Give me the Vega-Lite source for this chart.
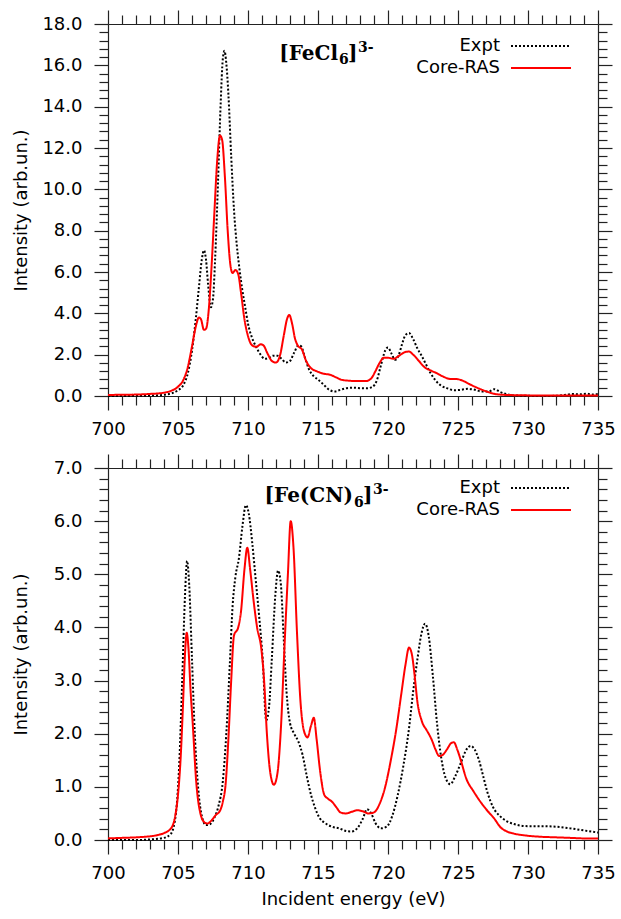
{
  "$schema": "https://vega.github.io/schema/vega-lite/v6.json",
  "background": "white",
  "padding": {"left": 12, "top": 9, "right": 5, "bottom": 5},
  "spacing": 15,
  "resolve": {"scale": {"color": "independent", "strokeDash": "independent"}, "legend": {"color": "independent", "strokeDash": "independent"}},
  "config": {
    "view": {"stroke": null},
    "axis": {"domainColor": "#222", "tickColor": "#222", "labelColor": "#000", "titleColor": "#000", "labelFont": "DejaVu Sans", "titleFont": "DejaVu Sans", "labelFontSize": 18, "titleFontSize": 18, "titleFontWeight": "normal", "grid": false, "labelOverlap": false, "labelFlush": false, "domainWidth": 1.2, "tickWidth": 1.2},
    "legend": {"title": null, "orient": "none", "legendX": 424, "symbolType": "M-5,0H5", "symbolSize": 144, "symbolStrokeWidth": 2, "labelAlign": "right", "labelOffset": -50, "labelFontSize": 18, "labelFont": "DejaVu Sans", "labelColor": "#000", "rowPadding": 4, "padding": 0}
  },
  "datasets": {
    "fecl": [
      {"E":700,"I":0,"s":"Expt"},{"E":701,"I":0,"s":"Expt"},{"E":702,"I":0.01,"s":"Expt"},{"E":703,"I":0.02,"s":"Expt"},{"E":704,"I":0.06,"s":"Expt"},{"E":704.5,"I":0.12,"s":"Expt"},{"E":705,"I":0.28,"s":"Expt"},{"E":705.4,"I":0.55,"s":"Expt"},{"E":705.7,"I":1.1,"s":"Expt"},{"E":706.0,"I":2.2,"s":"Expt"},{"E":706.25,"I":3.6,"s":"Expt"},{"E":706.5,"I":5.3,"s":"Expt"},{"E":706.7,"I":6.6,"s":"Expt"},{"E":706.85,"I":7.05,"s":"Expt"},{"E":707.0,"I":6.6,"s":"Expt"},{"E":707.15,"I":5.4,"s":"Expt"},{"E":707.35,"I":4.3,"s":"Expt"},{"E":707.5,"I":4.7,"s":"Expt"},{"E":707.65,"I":6.6,"s":"Expt"},{"E":707.85,"I":10.2,"s":"Expt"},{"E":708.05,"I":14.2,"s":"Expt"},{"E":708.2,"I":16.3,"s":"Expt"},{"E":708.32,"I":16.7,"s":"Expt"},{"E":708.45,"I":16.1,"s":"Expt"},{"E":708.6,"I":14.6,"s":"Expt"},{"E":708.8,"I":11.6,"s":"Expt"},{"E":709.0,"I":9.0,"s":"Expt"},{"E":709.2,"I":7.3,"s":"Expt"},{"E":709.4,"I":6.1,"s":"Expt"},{"E":709.6,"I":5.1,"s":"Expt"},{"E":709.8,"I":4.3,"s":"Expt"},{"E":710.0,"I":3.5,"s":"Expt"},{"E":710.3,"I":2.8,"s":"Expt"},{"E":710.6,"I":2.35,"s":"Expt"},{"E":710.9,"I":2.0,"s":"Expt"},{"E":711.2,"I":1.8,"s":"Expt"},{"E":711.5,"I":1.85,"s":"Expt"},{"E":711.8,"I":1.95,"s":"Expt"},{"E":712.1,"I":1.95,"s":"Expt"},{"E":712.4,"I":1.8,"s":"Expt"},{"E":712.7,"I":1.62,"s":"Expt"},{"E":713.0,"I":1.7,"s":"Expt"},{"E":713.3,"I":2.1,"s":"Expt"},{"E":713.6,"I":2.45,"s":"Expt"},{"E":713.8,"I":2.4,"s":"Expt"},{"E":714.05,"I":1.9,"s":"Expt"},{"E":714.35,"I":1.3,"s":"Expt"},{"E":714.7,"I":0.95,"s":"Expt"},{"E":715.0,"I":0.8,"s":"Expt"},{"E":715.4,"I":0.55,"s":"Expt"},{"E":715.8,"I":0.3,"s":"Expt"},{"E":716.2,"I":0.22,"s":"Expt"},{"E":716.6,"I":0.3,"s":"Expt"},{"E":717.0,"I":0.37,"s":"Expt"},{"E":717.5,"I":0.4,"s":"Expt"},{"E":718.0,"I":0.38,"s":"Expt"},{"E":718.5,"I":0.37,"s":"Expt"},{"E":718.9,"I":0.45,"s":"Expt"},{"E":719.2,"I":0.75,"s":"Expt"},{"E":719.5,"I":1.5,"s":"Expt"},{"E":719.8,"I":2.2,"s":"Expt"},{"E":720.0,"I":2.35,"s":"Expt"},{"E":720.25,"I":2.05,"s":"Expt"},{"E":720.5,"I":1.75,"s":"Expt"},{"E":720.75,"I":1.95,"s":"Expt"},{"E":721.0,"I":2.5,"s":"Expt"},{"E":721.25,"I":2.95,"s":"Expt"},{"E":721.5,"I":3.05,"s":"Expt"},{"E":721.8,"I":2.75,"s":"Expt"},{"E":722.1,"I":2.3,"s":"Expt"},{"E":722.4,"I":1.95,"s":"Expt"},{"E":722.7,"I":1.55,"s":"Expt"},{"E":723.0,"I":1.15,"s":"Expt"},{"E":723.4,"I":0.75,"s":"Expt"},{"E":723.8,"I":0.5,"s":"Expt"},{"E":724.2,"I":0.38,"s":"Expt"},{"E":724.7,"I":0.28,"s":"Expt"},{"E":725.2,"I":0.3,"s":"Expt"},{"E":725.7,"I":0.35,"s":"Expt"},{"E":726.2,"I":0.3,"s":"Expt"},{"E":726.7,"I":0.22,"s":"Expt"},{"E":727.2,"I":0.22,"s":"Expt"},{"E":727.6,"I":0.33,"s":"Expt"},{"E":728.0,"I":0.2,"s":"Expt"},{"E":728.5,"I":0.08,"s":"Expt"},{"E":729,"I":0.03,"s":"Expt"},{"E":730,"I":0.01,"s":"Expt"},{"E":731,"I":0,"s":"Expt"},{"E":732,"I":0.01,"s":"Expt"},{"E":732.6,"I":0.05,"s":"Expt"},{"E":733.2,"I":0.1,"s":"Expt"},{"E":733.7,"I":0.08,"s":"Expt"},{"E":734.2,"I":0.11,"s":"Expt"},{"E":734.6,"I":0.07,"s":"Expt"},{"E":735,"I":0.1,"s":"Expt"},
      {"E":700,"I":0.05,"s":"Core-RAS"},{"E":701,"I":0.06,"s":"Core-RAS"},{"E":702,"I":0.07,"s":"Core-RAS"},{"E":703,"I":0.1,"s":"Core-RAS"},{"E":704,"I":0.16,"s":"Core-RAS"},{"E":704.5,"I":0.25,"s":"Core-RAS"},{"E":705,"I":0.45,"s":"Core-RAS"},{"E":705.4,"I":0.8,"s":"Core-RAS"},{"E":705.7,"I":1.4,"s":"Core-RAS"},{"E":706.0,"I":2.4,"s":"Core-RAS"},{"E":706.25,"I":3.3,"s":"Core-RAS"},{"E":706.5,"I":3.8,"s":"Core-RAS"},{"E":706.65,"I":3.7,"s":"Core-RAS"},{"E":706.85,"I":3.2,"s":"Core-RAS"},{"E":707.0,"I":3.25,"s":"Core-RAS"},{"E":707.2,"I":4.2,"s":"Core-RAS"},{"E":707.4,"I":6.3,"s":"Core-RAS"},{"E":707.6,"I":8.9,"s":"Core-RAS"},{"E":707.8,"I":11.4,"s":"Core-RAS"},{"E":708.0,"I":12.6,"s":"Core-RAS"},{"E":708.15,"I":12.4,"s":"Core-RAS"},{"E":708.35,"I":10.6,"s":"Core-RAS"},{"E":708.55,"I":8.0,"s":"Core-RAS"},{"E":708.75,"I":6.3,"s":"Core-RAS"},{"E":708.9,"I":5.95,"s":"Core-RAS"},{"E":709.1,"I":6.1,"s":"Core-RAS"},{"E":709.3,"I":5.9,"s":"Core-RAS"},{"E":709.5,"I":5.0,"s":"Core-RAS"},{"E":709.75,"I":3.7,"s":"Core-RAS"},{"E":710.0,"I":2.9,"s":"Core-RAS"},{"E":710.3,"I":2.45,"s":"Core-RAS"},{"E":710.6,"I":2.38,"s":"Core-RAS"},{"E":710.9,"I":2.5,"s":"Core-RAS"},{"E":711.1,"I":2.45,"s":"Core-RAS"},{"E":711.4,"I":2.05,"s":"Core-RAS"},{"E":711.7,"I":1.7,"s":"Core-RAS"},{"E":712.0,"I":1.62,"s":"Core-RAS"},{"E":712.3,"I":2.0,"s":"Core-RAS"},{"E":712.55,"I":2.9,"s":"Core-RAS"},{"E":712.8,"I":3.75,"s":"Core-RAS"},{"E":712.95,"I":3.92,"s":"Core-RAS"},{"E":713.15,"I":3.5,"s":"Core-RAS"},{"E":713.35,"I":2.8,"s":"Core-RAS"},{"E":713.55,"I":2.45,"s":"Core-RAS"},{"E":713.85,"I":2.25,"s":"Core-RAS"},{"E":714.15,"I":1.7,"s":"Core-RAS"},{"E":714.5,"I":1.35,"s":"Core-RAS"},{"E":714.9,"I":1.2,"s":"Core-RAS"},{"E":715.4,"I":1.08,"s":"Core-RAS"},{"E":715.9,"I":1.02,"s":"Core-RAS"},{"E":716.3,"I":0.9,"s":"Core-RAS"},{"E":716.7,"I":0.78,"s":"Core-RAS"},{"E":717.2,"I":0.74,"s":"Core-RAS"},{"E":717.8,"I":0.72,"s":"Core-RAS"},{"E":718.4,"I":0.72,"s":"Core-RAS"},{"E":718.8,"I":0.85,"s":"Core-RAS"},{"E":719.1,"I":1.2,"s":"Core-RAS"},{"E":719.4,"I":1.6,"s":"Core-RAS"},{"E":719.7,"I":1.85,"s":"Core-RAS"},{"E":720.0,"I":1.85,"s":"Core-RAS"},{"E":720.4,"I":1.8,"s":"Core-RAS"},{"E":720.8,"I":1.95,"s":"Core-RAS"},{"E":721.2,"I":2.12,"s":"Core-RAS"},{"E":721.5,"I":2.15,"s":"Core-RAS"},{"E":721.8,"I":2.0,"s":"Core-RAS"},{"E":722.2,"I":1.7,"s":"Core-RAS"},{"E":722.6,"I":1.4,"s":"Core-RAS"},{"E":723.0,"I":1.25,"s":"Core-RAS"},{"E":723.5,"I":1.1,"s":"Core-RAS"},{"E":724.0,"I":0.92,"s":"Core-RAS"},{"E":724.5,"I":0.82,"s":"Core-RAS"},{"E":724.9,"I":0.82,"s":"Core-RAS"},{"E":725.3,"I":0.75,"s":"Core-RAS"},{"E":725.8,"I":0.58,"s":"Core-RAS"},{"E":726.3,"I":0.42,"s":"Core-RAS"},{"E":726.8,"I":0.28,"s":"Core-RAS"},{"E":727.3,"I":0.16,"s":"Core-RAS"},{"E":727.8,"I":0.08,"s":"Core-RAS"},{"E":728.5,"I":0.05,"s":"Core-RAS"},{"E":730,"I":0.03,"s":"Core-RAS"},{"E":732,"I":0.02,"s":"Core-RAS"},{"E":735,"I":0.02,"s":"Core-RAS"}
    ],
    "fecn": [
      {"E":700,"I":0,"s":"Expt"},{"E":702,"I":0,"s":"Expt"},{"E":703,"I":0.01,"s":"Expt"},{"E":704,"I":0.04,"s":"Expt"},{"E":704.5,"I":0.12,"s":"Expt"},{"E":704.85,"I":0.5,"s":"Expt"},{"E":705.1,"I":1.5,"s":"Expt"},{"E":705.3,"I":3.0,"s":"Expt"},{"E":705.5,"I":4.6,"s":"Expt"},{"E":705.65,"I":5.25,"s":"Expt"},{"E":705.8,"I":4.8,"s":"Expt"},{"E":706.0,"I":3.4,"s":"Expt"},{"E":706.2,"I":2.0,"s":"Expt"},{"E":706.45,"I":0.95,"s":"Expt"},{"E":706.7,"I":0.45,"s":"Expt"},{"E":707.0,"I":0.28,"s":"Expt"},{"E":707.3,"I":0.3,"s":"Expt"},{"E":707.6,"I":0.42,"s":"Expt"},{"E":707.9,"I":0.65,"s":"Expt"},{"E":708.2,"I":1.1,"s":"Expt"},{"E":708.45,"I":2.0,"s":"Expt"},{"E":708.7,"I":3.3,"s":"Expt"},{"E":708.9,"I":4.4,"s":"Expt"},{"E":709.1,"I":4.95,"s":"Expt"},{"E":709.35,"I":5.3,"s":"Expt"},{"E":709.6,"I":5.9,"s":"Expt"},{"E":709.85,"I":6.3,"s":"Expt"},{"E":710.05,"I":6.15,"s":"Expt"},{"E":710.3,"I":5.6,"s":"Expt"},{"E":710.55,"I":4.9,"s":"Expt"},{"E":710.8,"I":4.2,"s":"Expt"},{"E":711.05,"I":3.4,"s":"Expt"},{"E":711.3,"I":2.25,"s":"Expt"},{"E":711.5,"I":2.5,"s":"Expt"},{"E":711.7,"I":3.4,"s":"Expt"},{"E":711.95,"I":4.6,"s":"Expt"},{"E":712.15,"I":5.07,"s":"Expt"},{"E":712.35,"I":4.8,"s":"Expt"},{"E":712.55,"I":3.8,"s":"Expt"},{"E":712.75,"I":2.8,"s":"Expt"},{"E":713.0,"I":2.2,"s":"Expt"},{"E":713.3,"I":2.0,"s":"Expt"},{"E":713.6,"I":1.85,"s":"Expt"},{"E":713.9,"I":1.6,"s":"Expt"},{"E":714.2,"I":1.2,"s":"Expt"},{"E":714.5,"I":0.85,"s":"Expt"},{"E":714.8,"I":0.6,"s":"Expt"},{"E":715.1,"I":0.42,"s":"Expt"},{"E":715.5,"I":0.32,"s":"Expt"},{"E":716.0,"I":0.25,"s":"Expt"},{"E":716.5,"I":0.22,"s":"Expt"},{"E":717.0,"I":0.17,"s":"Expt"},{"E":717.4,"I":0.16,"s":"Expt"},{"E":717.8,"I":0.22,"s":"Expt"},{"E":718.2,"I":0.4,"s":"Expt"},{"E":718.5,"I":0.58,"s":"Expt"},{"E":718.8,"I":0.5,"s":"Expt"},{"E":719.1,"I":0.32,"s":"Expt"},{"E":719.5,"I":0.22,"s":"Expt"},{"E":719.9,"I":0.25,"s":"Expt"},{"E":720.3,"I":0.45,"s":"Expt"},{"E":720.7,"I":0.85,"s":"Expt"},{"E":721.1,"I":1.4,"s":"Expt"},{"E":721.5,"I":2.1,"s":"Expt"},{"E":721.8,"I":2.8,"s":"Expt"},{"E":722.1,"I":3.4,"s":"Expt"},{"E":722.4,"I":3.9,"s":"Expt"},{"E":722.65,"I":4.07,"s":"Expt"},{"E":722.9,"I":3.85,"s":"Expt"},{"E":723.2,"I":3.1,"s":"Expt"},{"E":723.5,"I":2.2,"s":"Expt"},{"E":723.8,"I":1.55,"s":"Expt"},{"E":724.1,"I":1.18,"s":"Expt"},{"E":724.45,"I":1.05,"s":"Expt"},{"E":724.8,"I":1.2,"s":"Expt"},{"E":725.2,"I":1.45,"s":"Expt"},{"E":725.6,"I":1.7,"s":"Expt"},{"E":725.9,"I":1.77,"s":"Expt"},{"E":726.2,"I":1.7,"s":"Expt"},{"E":726.5,"I":1.5,"s":"Expt"},{"E":726.8,"I":1.2,"s":"Expt"},{"E":727.1,"I":0.9,"s":"Expt"},{"E":727.5,"I":0.62,"s":"Expt"},{"E":728.0,"I":0.45,"s":"Expt"},{"E":728.5,"I":0.35,"s":"Expt"},{"E":729.0,"I":0.3,"s":"Expt"},{"E":729.5,"I":0.27,"s":"Expt"},{"E":730.0,"I":0.26,"s":"Expt"},{"E":731.0,"I":0.26,"s":"Expt"},{"E":732.0,"I":0.25,"s":"Expt"},{"E":733.0,"I":0.22,"s":"Expt"},{"E":734.0,"I":0.18,"s":"Expt"},{"E":735.0,"I":0.14,"s":"Expt"},
      {"E":700,"I":0.03,"s":"Core-RAS"},{"E":701,"I":0.04,"s":"Core-RAS"},{"E":702,"I":0.05,"s":"Core-RAS"},{"E":703,"I":0.07,"s":"Core-RAS"},{"E":703.5,"I":0.09,"s":"Core-RAS"},{"E":704,"I":0.13,"s":"Core-RAS"},{"E":704.5,"I":0.22,"s":"Core-RAS"},{"E":704.8,"I":0.45,"s":"Core-RAS"},{"E":705.0,"I":0.85,"s":"Core-RAS"},{"E":705.2,"I":1.6,"s":"Core-RAS"},{"E":705.35,"I":2.5,"s":"Core-RAS"},{"E":705.5,"I":3.5,"s":"Core-RAS"},{"E":705.62,"I":3.9,"s":"Core-RAS"},{"E":705.75,"I":3.6,"s":"Core-RAS"},{"E":705.9,"I":2.8,"s":"Core-RAS"},{"E":706.05,"I":2.2,"s":"Core-RAS"},{"E":706.3,"I":1.1,"s":"Core-RAS"},{"E":706.6,"I":0.5,"s":"Core-RAS"},{"E":706.9,"I":0.33,"s":"Core-RAS"},{"E":707.1,"I":0.31,"s":"Core-RAS"},{"E":707.4,"I":0.37,"s":"Core-RAS"},{"E":707.7,"I":0.47,"s":"Core-RAS"},{"E":708.0,"I":0.55,"s":"Core-RAS"},{"E":708.2,"I":0.72,"s":"Core-RAS"},{"E":708.4,"I":1.05,"s":"Core-RAS"},{"E":708.6,"I":1.9,"s":"Core-RAS"},{"E":708.8,"I":3.0,"s":"Core-RAS"},{"E":709.0,"I":3.85,"s":"Core-RAS"},{"E":709.3,"I":4.0,"s":"Core-RAS"},{"E":709.5,"I":4.3,"s":"Core-RAS"},{"E":709.75,"I":5.1,"s":"Core-RAS"},{"E":709.95,"I":5.5,"s":"Core-RAS"},{"E":710.15,"I":5.1,"s":"Core-RAS"},{"E":710.4,"I":4.5,"s":"Core-RAS"},{"E":710.65,"I":4.0,"s":"Core-RAS"},{"E":710.95,"I":3.6,"s":"Core-RAS"},{"E":711.15,"I":3.0,"s":"Core-RAS"},{"E":711.35,"I":2.0,"s":"Core-RAS"},{"E":711.6,"I":1.25,"s":"Core-RAS"},{"E":711.85,"I":1.04,"s":"Core-RAS"},{"E":712.1,"I":1.25,"s":"Core-RAS"},{"E":712.35,"I":2.1,"s":"Core-RAS"},{"E":712.6,"I":3.6,"s":"Core-RAS"},{"E":712.85,"I":5.0,"s":"Core-RAS"},{"E":713.05,"I":6.0,"s":"Core-RAS"},{"E":713.25,"I":5.5,"s":"Core-RAS"},{"E":713.5,"I":3.9,"s":"Core-RAS"},{"E":713.75,"I":2.6,"s":"Core-RAS"},{"E":714.0,"I":2.05,"s":"Core-RAS"},{"E":714.25,"I":1.93,"s":"Core-RAS"},{"E":714.5,"I":2.15,"s":"Core-RAS"},{"E":714.7,"I":2.3,"s":"Core-RAS"},{"E":714.9,"I":1.9,"s":"Core-RAS"},{"E":715.15,"I":1.3,"s":"Core-RAS"},{"E":715.45,"I":0.85,"s":"Core-RAS"},{"E":715.7,"I":0.78,"s":"Core-RAS"},{"E":716.0,"I":0.72,"s":"Core-RAS"},{"E":716.3,"I":0.62,"s":"Core-RAS"},{"E":716.6,"I":0.52,"s":"Core-RAS"},{"E":717.0,"I":0.5,"s":"Core-RAS"},{"E":717.4,"I":0.53,"s":"Core-RAS"},{"E":717.8,"I":0.56,"s":"Core-RAS"},{"E":718.2,"I":0.54,"s":"Core-RAS"},{"E":718.6,"I":0.5,"s":"Core-RAS"},{"E":719.0,"I":0.52,"s":"Core-RAS"},{"E":719.4,"I":0.68,"s":"Core-RAS"},{"E":719.8,"I":1.0,"s":"Core-RAS"},{"E":720.2,"I":1.5,"s":"Core-RAS"},{"E":720.6,"I":2.1,"s":"Core-RAS"},{"E":720.95,"I":2.75,"s":"Core-RAS"},{"E":721.25,"I":3.3,"s":"Core-RAS"},{"E":721.5,"I":3.62,"s":"Core-RAS"},{"E":721.7,"I":3.5,"s":"Core-RAS"},{"E":721.9,"I":3.1,"s":"Core-RAS"},{"E":722.1,"I":2.6,"s":"Core-RAS"},{"E":722.4,"I":2.25,"s":"Core-RAS"},{"E":722.8,"I":2.05,"s":"Core-RAS"},{"E":723.1,"I":1.9,"s":"Core-RAS"},{"E":723.4,"I":1.7,"s":"Core-RAS"},{"E":723.65,"I":1.58,"s":"Core-RAS"},{"E":723.9,"I":1.6,"s":"Core-RAS"},{"E":724.2,"I":1.7,"s":"Core-RAS"},{"E":724.5,"I":1.82,"s":"Core-RAS"},{"E":724.7,"I":1.84,"s":"Core-RAS"},{"E":724.95,"I":1.7,"s":"Core-RAS"},{"E":725.2,"I":1.5,"s":"Core-RAS"},{"E":725.6,"I":1.15,"s":"Core-RAS"},{"E":726.1,"I":0.92,"s":"Core-RAS"},{"E":726.6,"I":0.72,"s":"Core-RAS"},{"E":727.1,"I":0.55,"s":"Core-RAS"},{"E":727.6,"I":0.4,"s":"Core-RAS"},{"E":728.0,"I":0.25,"s":"Core-RAS"},{"E":728.5,"I":0.16,"s":"Core-RAS"},{"E":729.0,"I":0.12,"s":"Core-RAS"},{"E":730.0,"I":0.08,"s":"Core-RAS"},{"E":731.0,"I":0.06,"s":"Core-RAS"},{"E":732.0,"I":0.05,"s":"Core-RAS"},{"E":733.0,"I":0.04,"s":"Core-RAS"},{"E":734.0,"I":0.03,"s":"Core-RAS"},{"E":735.0,"I":0.03,"s":"Core-RAS"}
    ]
  },
  "vconcat": [
    {
      "width": 490, "height": 372,
      "data": {"name": "fecl"},
      "layer": [
        {
          "mark": {"type": "line", "interpolate": "monotone", "strokeWidth": 2},
          "encoding": {
            "x": {"field": "E", "type": "quantitative", "scale": {"domain": [700, 735], "nice": false, "zero": false},
                  "axis": {"orient": "bottom", "title": null, "values": [700,701,702,703,704,705,706,707,708,709,710,711,712,713,714,715,716,717,718,719,720,721,722,723,724,725,726,727,728,729,730,731,732,733,734,735],
                           "tickSize": {"condition": {"test": "datum.value % 5 === 0", "value": 14}, "value": 9},
                           "labelExpr": "datum.value % 5 === 0 ? datum.label : ''", "labelPadding": 10}},
            "y": {"field": "I", "type": "quantitative", "scale": {"domain": [0, 18], "nice": false},
                  "axis": {"orient": "left", "title": "Intensity (arb.un.)", "titleX": -78, "values": [0,0.4,0.8,1.2,1.6,2,2.4,2.8,3.2,3.6,4,4.4,4.8,5.2,5.6,6,6.4,6.8,7.2,7.6,8,8.4,8.8,9.2,9.6,10,10.4,10.8,11.2,11.6,12,12.4,12.8,13.2,13.6,14,14.4,14.8,15.2,15.6,16,16.4,16.8,17.2,17.6,18],
                           "tickSize": {"condition": {"test": "datum.value % 2 === 0", "value": 14}, "value": 9},
                           "labelExpr": "datum.value % 2 === 0 ? format(datum.value, '.1f') : ''", "labelPadding": 12}},
            "color": {"field": "s", "type": "nominal", "scale": {"domain": ["Expt", "Core-RAS"], "range": ["#000000", "#ff0000"]},
                      "legend": {"legendY": 13}},
            "strokeDash": {"field": "s", "type": "nominal", "scale": {"domain": ["Expt", "Core-RAS"], "range": [[2, 2], [1, 0]]},
                      "legend": {"legendY": 13}}
          }
        },
        {
          "mark": {"type": "line", "opacity": 0},
          "encoding": {
            "x": {"field": "E", "type": "quantitative",
                  "axis": {"orient": "top", "title": null, "labels": false, "values": [700,701,702,703,704,705,706,707,708,709,710,711,712,713,714,715,716,717,718,719,720,721,722,723,724,725,726,727,728,729,730,731,732,733,734,735],
                           "tickSize": {"condition": {"test": "datum.value % 5 === 0", "value": 14}, "value": 9}}},
            "y": {"field": "I", "type": "quantitative",
                  "axis": {"orient": "right", "title": null, "labels": false, "values": [0,0.4,0.8,1.2,1.6,2,2.4,2.8,3.2,3.6,4,4.4,4.8,5.2,5.6,6,6.4,6.8,7.2,7.6,8,8.4,8.8,9.2,9.6,10,10.4,10.8,11.2,11.6,12,12.4,12.8,13.2,13.6,14,14.4,14.8,15.2,15.6,16,16.4,16.8,17.2,17.6,18],
                           "tickSize": {"condition": {"test": "datum.value % 2 === 0", "value": 14}, "value": 9}}},
            "detail": {"field": "s"}
          }
        },
        {
          "data": {"values": [{}]},
          "mark": {"type": "text", "align": "right", "baseline": "alphabetic", "font": "DejaVu Serif", "fontWeight": "bold", "fontSize": 20, "fill": "#000"},
          "encoding": {"x": {"datum": 716.43, "type": "quantitative", "axis": null}, "y": {"datum": 16.26, "type": "quantitative", "axis": null}, "text": {"value": "[FeCl"}}
        },
        {
          "data": {"values": [{}]},
          "mark": {"type": "text", "align": "left", "baseline": "alphabetic", "font": "DejaVu Serif", "fontWeight": "bold", "fontSize": 14, "fill": "#000", "dx": 1, "dy": 4},
          "encoding": {"x": {"datum": 716.43, "type": "quantitative", "axis": null}, "y": {"datum": 16.26, "type": "quantitative", "axis": null}, "text": {"value": "6"}}
        },
        {
          "data": {"values": [{}]},
          "mark": {"type": "text", "align": "left", "baseline": "alphabetic", "font": "DejaVu Serif", "fontWeight": "bold", "fontSize": 20, "fill": "#000", "dx": 10},
          "encoding": {"x": {"datum": 716.43, "type": "quantitative", "axis": null}, "y": {"datum": 16.26, "type": "quantitative", "axis": null}, "text": {"value": "]"}}
        },
        {
          "data": {"values": [{}]},
          "mark": {"type": "text", "align": "left", "baseline": "alphabetic", "font": "DejaVu Serif", "fontWeight": "bold", "fontSize": 14, "fill": "#000", "dx": 20, "dy": -8},
          "encoding": {"x": {"datum": 716.43, "type": "quantitative", "axis": null}, "y": {"datum": 16.26, "type": "quantitative", "axis": null}, "text": {"value": "3-"}}
        }
      ],
      "resolve": {"axis": {"x": "independent", "y": "independent"}}
    },
    {
      "width": 490, "height": 372,
      "data": {"name": "fecn"},
      "layer": [
        {
          "mark": {"type": "line", "interpolate": "monotone", "strokeWidth": 2},
          "encoding": {
            "x": {"field": "E", "type": "quantitative", "scale": {"domain": [700, 735], "nice": false, "zero": false},
                  "axis": {"orient": "bottom", "title": "Incident energy (eV)", "titlePadding": 8, "values": [700,701,702,703,704,705,706,707,708,709,710,711,712,713,714,715,716,717,718,719,720,721,722,723,724,725,726,727,728,729,730,731,732,733,734,735],
                           "tickSize": {"condition": {"test": "datum.value % 5 === 0", "value": 14}, "value": 9},
                           "labelExpr": "datum.value % 5 === 0 ? datum.label : ''", "labelPadding": 10}},
            "y": {"field": "I", "type": "quantitative", "scale": {"domain": [0, 7], "nice": false},
                  "axis": {"orient": "left", "title": "Intensity (arb.un.)", "titleX": -78, "values": [0,0.2,0.4,0.6,0.8,1,1.2,1.4,1.6,1.8,2,2.2,2.4,2.6,2.8,3,3.2,3.4,3.6,3.8,4,4.2,4.4,4.6,4.8,5,5.2,5.4,5.6,5.8,6,6.2,6.4,6.6,6.8,7],
                           "tickSize": {"condition": {"test": "datum.value % 1 === 0", "value": 14}, "value": 9},
                           "labelExpr": "datum.value % 1 === 0 ? format(datum.value, '.1f') : ''", "labelPadding": 12}},
            "color": {"field": "s", "type": "nominal", "scale": {"domain": ["Expt", "Core-RAS"], "range": ["#000000", "#ff0000"]},
                      "legend": {"legendY": 11}},
            "strokeDash": {"field": "s", "type": "nominal", "scale": {"domain": ["Expt", "Core-RAS"], "range": [[2, 2], [1, 0]]},
                      "legend": {"legendY": 11}}
          }
        },
        {
          "mark": {"type": "line", "opacity": 0},
          "encoding": {
            "x": {"field": "E", "type": "quantitative",
                  "axis": {"orient": "top", "title": null, "labels": false, "values": [700,701,702,703,704,705,706,707,708,709,710,711,712,713,714,715,716,717,718,719,720,721,722,723,724,725,726,727,728,729,730,731,732,733,734,735],
                           "tickSize": {"condition": {"test": "datum.value % 5 === 0", "value": 14}, "value": 9}}},
            "y": {"field": "I", "type": "quantitative",
                  "axis": {"orient": "right", "title": null, "labels": false, "values": [0,0.2,0.4,0.6,0.8,1,1.2,1.4,1.6,1.8,2,2.2,2.4,2.6,2.8,3,3.2,3.4,3.6,3.8,4,4.2,4.4,4.6,4.8,5,5.2,5.4,5.6,5.8,6,6.2,6.4,6.6,6.8,7],
                           "tickSize": {"condition": {"test": "datum.value % 1 === 0", "value": 14}, "value": 9}}},
            "detail": {"field": "s"}
          }
        },
        {
          "data": {"values": [{}]},
          "mark": {"type": "text", "align": "right", "baseline": "alphabetic", "font": "DejaVu Serif", "fontWeight": "bold", "fontSize": 20, "fill": "#000"},
          "encoding": {"x": {"datum": 717.5, "type": "quantitative", "axis": null}, "y": {"datum": 6.36, "type": "quantitative", "axis": null}, "text": {"value": "[Fe(CN)"}}
        },
        {
          "data": {"values": [{}]},
          "mark": {"type": "text", "align": "left", "baseline": "alphabetic", "font": "DejaVu Serif", "fontWeight": "bold", "fontSize": 14, "fill": "#000", "dx": 1, "dy": 5},
          "encoding": {"x": {"datum": 717.5, "type": "quantitative", "axis": null}, "y": {"datum": 6.36, "type": "quantitative", "axis": null}, "text": {"value": "6"}}
        },
        {
          "data": {"values": [{}]},
          "mark": {"type": "text", "align": "left", "baseline": "alphabetic", "font": "DejaVu Serif", "fontWeight": "bold", "fontSize": 20, "fill": "#000", "dx": 10},
          "encoding": {"x": {"datum": 717.5, "type": "quantitative", "axis": null}, "y": {"datum": 6.36, "type": "quantitative", "axis": null}, "text": {"value": "]"}}
        },
        {
          "data": {"values": [{}]},
          "mark": {"type": "text", "align": "left", "baseline": "alphabetic", "font": "DejaVu Serif", "fontWeight": "bold", "fontSize": 14, "fill": "#000", "dx": 20, "dy": -8},
          "encoding": {"x": {"datum": 717.5, "type": "quantitative", "axis": null}, "y": {"datum": 6.36, "type": "quantitative", "axis": null}, "text": {"value": "3-"}}
        }
      ],
      "resolve": {"axis": {"x": "independent", "y": "independent"}}
    }
  ]
}
